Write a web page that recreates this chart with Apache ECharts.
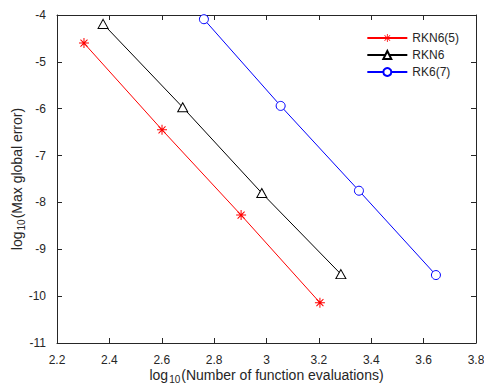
<!DOCTYPE html>
<html>
<head>
<meta charset="utf-8">
<script src="https://cdn.jsdelivr.net/npm/echarts@6/dist/echarts.min.js"></script>
<style>
  html, body { margin: 0; padding: 0; background: #fff; }
  #chart { width: 484px; height: 387px; }
</style>
</head>
<body>
<div id="chart"></div>
<script>
// log10(function evaluations) vs log10(max global error)
const rkn65X = [2.303, 2.601, 2.903, 3.204];
const rkn65Y = [-4.60, -6.45, -8.27, -10.14];
const rkn6X = [2.376, 2.680, 2.982, 3.284];
const rkn6Y = [-4.19, -5.97, -7.80, -9.53];
const rk67X = [2.761, 3.054, 3.353, 3.647];
const rk67Y = [-4.09, -5.94, -7.75, -9.55];
const names = ['RKN6(5)', 'RKN6', 'RK6(7)'];

const zip = (xs, ys) => xs.map((x, i) => [x, ys[i]]);
const FONT = 'Liberation Sans, Arial, sans-serif';
const AX = '#262626';
// matlab '*' marker: + and x overlaid, as thin filled bars
const STAR = 'path://M0,9H20V11H0Z M9,0H11V20H9Z M2.3,3.7L3.7,2.3L17.7,16.3L16.3,17.7Z M16.3,2.3L17.7,3.7L3.7,17.7L2.3,16.3Z';

const mainAxis = {
  axisLine: { lineStyle: { color: AX, width: 1 } },
  axisTick: { inside: true, length: 5, lineStyle: { color: AX } },
  axisLabel: { color: AX, fontSize: 12, fontFamily: FONT },
  splitLine: { show: false },
};
const boxAxis = {
  axisLine: { lineStyle: { color: AX, width: 1 } },
  axisTick: { inside: true, length: 5, lineStyle: { color: AX } },
  axisLabel: { show: false },
  splitLine: { show: false },
};
const nameRich = {
  a: { fontSize: 14, fontFamily: FONT, color: AX },
  b: { fontSize: 10, fontFamily: FONT, color: AX, padding: [9, 1, 0, 1] },
};

const chart = echarts.init(document.getElementById('chart'), null, { renderer: 'svg' });
chart.setOption({
  animation: false,
  grid: { left: 57, right: 8, top: 15, bottom: 44, outerBoundsMode: 'none' },
  legend: {
    right: 20, top: 27, orient: 'vertical', itemWidth: 40, itemHeight: 10, itemGap: 5,
    textStyle: { color: AX, fontSize: 12, fontFamily: FONT },
    data: names,
  },
  xAxis: [
    {
      type: 'value', min: 2.2, max: 3.8, interval: 0.2, ...mainAxis,
      axisLabel: { ...mainAxis.axisLabel, margin: 11 },
      name: '{a|log}{b|10}{a|(Number of function evaluations)}',
      nameLocation: 'middle', nameGap: 22, nameMoveOverlap: false,
      nameTextStyle: { rich: nameRich },
    },
    { type: 'value', position: 'top', min: 2.2, max: 3.8, interval: 0.2, ...boxAxis },
  ],
  yAxis: [
    {
      type: 'value', min: -11, max: -4, interval: 1, ...mainAxis,
      axisLabel: { ...mainAxis.axisLabel, margin: 11 },
      name: '{a|log}{b|10}{a|(Max global error)}',
      nameLocation: 'middle', nameGap: 31, nameMoveOverlap: false,
      nameTextStyle: { rich: nameRich },
    },
    { type: 'value', position: 'right', min: -11, max: -4, interval: 1, ...boxAxis },
  ],
  series: [
    {
      name: names[0], type: 'line', data: zip(rkn65X, rkn65Y),
      symbol: STAR, symbolSize: 10,
      lineStyle: { color: '#ff0000', width: 1 },
      itemStyle: { color: '#ff0000', borderWidth: 0 },
    },
    {
      name: names[1], type: 'line', data: zip(rkn6X, rkn6Y),
      symbol: 'triangle', symbolSize: [10, 9],
      lineStyle: { color: '#000000', width: 1 },
      itemStyle: { color: '#ffffff', borderColor: '#000000', borderWidth: 1 },
    },
    {
      name: names[2], type: 'line', data: zip(rk67X, rk67Y),
      symbol: 'circle', symbolSize: 9,
      lineStyle: { color: '#0000ff', width: 1 },
      itemStyle: { color: '#ffffff', borderColor: '#0000ff', borderWidth: 1 },
    },
  ],
});
</script>
</body>
</html>
